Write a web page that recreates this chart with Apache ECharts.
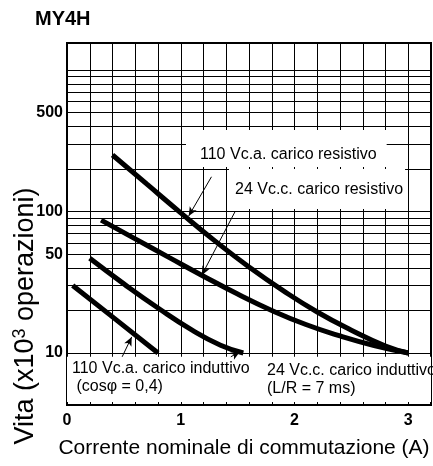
<!DOCTYPE html>
<html>
<head>
<meta charset="utf-8">
<script src="https://cdn.jsdelivr.net/npm/echarts@6/dist/echarts.min.js"></script>
<style>
  html, body { margin: 0; padding: 0; background: #fff; }
  #chart { width: 433px; height: 466px; }
</style>
</head>
<body>
<div id="chart"></div>
<script>
const FONT = '"Liberation Sans", Arial, sans-serif'

// axes
const xLabelValues = [0, 1, 2, 3]
const yLabelValues = [10, 50, 100, 500]
const yGridValues = [10, 20, 30, 40, 50, 60, 70, 80, 90, 100, 200, 300, 400, 500, 600, 700, 800, 900, 1000]

// curves: [corrente A, vita x10^3]
const ac110Resistive = [[0.4, 251], [0.7, 156.6], [1.0, 97.9], [1.3, 62], [1.6, 40.6], [1.9, 27.6], [2.2, 19.5], [2.5, 14.5], [2.8, 11.2], [3.0, 10]]
const dc24Resistive = [[0.3, 87], [0.6, 64.1], [0.9, 47.2], [1.2, 34.9], [1.5, 26.1], [1.8, 20], [2.1, 15.9], [2.4, 13.2], [2.7, 11.3], [3.0, 10]]
const dc24Inductive = [[0.2, 46.7], [0.5, 30.8], [0.8, 20.8], [1.1, 14.5], [1.35, 11.35], [1.55, 10]]
const ac110Inductive = [[0.05, 30], [0.4, 18], [0.8, 10]]

// leader lines from the captions to the curves
const leaderLines = [
  [[1.27, 176], [1.07, 93]],
  [[1.478, 100], [1.185, 35.5]],
  [[0.485, 9.4], [0.569, 13]],
  [[1.44, 9.4], [1.52, 10.2]]
]
const blankBand = [4.5, 9.4]

const curves = [
  { name: '110 Vc.a. carico resistivo', data: ac110Resistive },
  { name: '24 Vc.c. carico resistivo', data: dc24Resistive },
  { name: '24 Vc.c. carico induttivo', data: dc24Inductive },
  { name: '110 Vc.a. carico induttivo', data: ac110Inductive }
]

const chart = echarts.init(document.getElementById('chart'), null, { renderer: 'canvas' })

function markersFor(i) {
  if (i === 0) {
    return {
      markArea: {
        silent: true,
        itemStyle: { color: '#fff' },
        data: [[{ xAxis: 0, yAxis: blankBand[0] }, { xAxis: 3.2, yAxis: blankBand[1] }]]
      },
      markLine: {
        silent: true,
        symbol: ['none', 'arrow'],
        symbolSize: [6, 9],
        label: { show: false },
        lineStyle: { color: '#000', width: 1, type: 'solid' },
        data: leaderLines.map(([a, b]) => [{ coord: a }, { coord: b }])
      }
    }
  }
  if (i === 1) {
    // log-paper horizontal rules
    return {
      markLine: {
        silent: true,
        symbol: 'none',
        label: { show: false },
        lineStyle: { color: '#000', width: 1, type: 'solid' },
        data: yGridValues.map((v) => ({ yAxis: v }))
      }
    }
  }
  return {}
}

const option = {
  animation: false,
  backgroundColor: '#fff',
  textStyle: { fontFamily: FONT },
  title: {
    text: 'MY4H',
    left: 35,
    top: 9,
    padding: 0,
    textStyle: { fontSize: 20, fontWeight: 'bold', color: '#000', fontFamily: FONT }
  },
  grid: {
    left: 67,
    right: 2,
    top: 43,
    bottom: 61,
    show: true,
    borderColor: '#000',
    borderWidth: 2,
    containLabel: false,
    outerBoundsMode: 'none'
  },
  xAxis: {
    type: 'value',
    min: 0,
    max: 3.2,
    interval: 0.2,
    name: 'Corrente nominale di commutazione (A)',
    nameLocation: 'middle',
    nameGap: 33,
    nameMoveOverlap: false,
    nameTextStyle: { color: '#000', fontSize: 21, fontFamily: FONT, padding: [0, 10, 0, 0] },
    axisLine: { show: true, lineStyle: { color: '#000', width: 2 } },
    axisTick: { show: false },
    axisLabel: {
      customValues: xLabelValues,
      color: '#000',
      fontSize: 16,
      fontWeight: 'bold',
      fontFamily: FONT,
      margin: 8
    },
    splitLine: { show: true, lineStyle: { color: '#000', width: 1 } }
  },
  yAxis: {
    type: 'log',
    logBase: 10,
    min: 4.29,
    max: 1553,
    name: '{a|Vita (x10}{s|3}{a| operazioni)}',
    nameLocation: 'middle',
    nameGap: 26,
    nameMoveOverlap: false,
    nameTextStyle: {
      color: '#000',
      padding: [0, 184, 0, 0],
      rich: {
        a: { fontSize: 27, fontFamily: FONT, color: '#000', lineHeight: 30 },
        s: { fontSize: 18, fontFamily: FONT, color: '#000', verticalAlign: 'top', lineHeight: 19 }
      }
    },
    axisLine: { show: true, lineStyle: { color: '#000', width: 2 } },
    axisTick: { show: false },
    axisLabel: {
      customValues: yLabelValues,
      color: '#000',
      fontSize: 16,
      fontWeight: 'bold',
      fontFamily: FONT,
      margin: 4
    },
    splitLine: { show: false }
  },
  series: curves.map((c, i) => Object.assign({
    name: c.name,
    type: 'line',
    data: c.data,
    smooth: 0.5,
    symbol: 'none',
    showSymbol: false,
    silent: true,
    z: 3,
    lineStyle: { color: '#000', width: 5, cap: 'butt' }
  }, markersFor(i))),
  graphic: [
    {
      type: 'text', x: 186, y: 130, z: 100,
      style: {
        text: '110 Vc.a. carico resistivo', fontSize: 16, fontFamily: FONT, fill: '#000',
        lineHeight: 18, backgroundColor: '#fff', padding: [16, 10, 3, 14]
      }
    },
    {
      type: 'text', x: 229, y: 169, z: 100,
      style: {
        text: '24 Vc.c. carico resistivo', fontSize: 16, fontFamily: FONT, fill: '#000',
        lineHeight: 18, backgroundColor: '#fff', padding: [12, 2, 10, 6]
      }
    },
    {
      type: 'text', x: 72, y: 360, z: 100,
      style: {
        text: '110 Vc.a. carico induttivo\n (cosφ = 0,4)', fontSize: 16, fontFamily: FONT, fill: '#000',
        lineHeight: 18
      }
    },
    {
      type: 'text', x: 267, y: 362, z: 100,
      style: {
        text: '24 Vc.c. carico induttivo\n(L/R = 7 ms)', fontSize: 16, fontFamily: FONT, fill: '#000',
        lineHeight: 18
      }
    }
  ]
}

chart.setOption(option)
</script>
</body>
</html>
